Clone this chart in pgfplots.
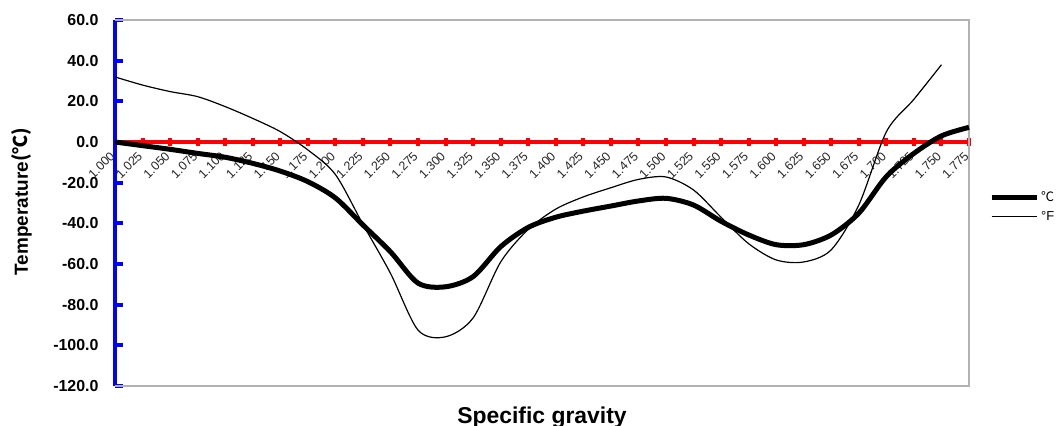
\documentclass[border=0pt]{standalone}
\usepackage{fontspec}
\setmainfont{Liberation Sans}
\newfontfamily\kr{Noto Sans CJK KR}
\usepackage{pgfplots}
\pgfplotsset{compat=1.18}

% freezing point vs specific gravity
\pgfplotstableread{
i   tc
0   0
1   -1.8
2   -3.6
3   -5.6
4   -7.5
5   -10.5
6   -14.3
7   -19.5
8   -27.5
9   -40.8
10  -54
11  -69.4
12  -71.2
13  -66.2
14  -51.5
15  -42
16  -37
17  -34
18  -31.5
19  -29
20  -27.7
21  -31
22  -39
23  -45.7
24  -50.5
25  -50.5
26  -45.7
27  -35
28  -17
29  -5.6
30  3
31  7.2
}\tblC
\pgfplotstableread{
i   tf
0   32
1   28
2   24.8
3   22.3
4   17.4
5   11.6
6   5.1
7   -3.9
8   -16
9   -40.5
10  -64.6
11  -92.5
12  -95.8
13  -86.5
14  -59
15  -43
16  -33
17  -27
18  -22.5
19  -18.4
20  -17.2
21  -23.6
22  -37
23  -50
24  -58
25  -59
26  -53
27  -31
28  5
29  21
30  38
}\tblF

\begin{document}
\begin{tikzpicture}
\useasboundingbox (0,0) rectangle (1057bp,426bp);
\begin{axis}[
    at={(115bp,40bp)}, anchor=south west,
    scale only axis, width=854bp, height=366bp,
    clip=false,
    xmin=0, xmax=31, ymin=-120, ymax=60,
    axis x line*=middle, axis y line*=left,
    hide obscured x ticks=false, hide obscured y ticks=false,
    x axis line style={red, line width=4.5bp},
    y axis line style={blue, line width=4.5bp},
    major tick length=8bp,
    xtick align=center, ytick align=inside,
    x tick style={red, line width=4bp},
    y tick style={blue, line width=4bp},
    xtick={0,...,31},
    xticklabels={1.000,1.025,1.050,1.075,1.100,1.125,1.150,1.175,1.200,1.225,1.250,1.275,1.300,1.325,1.350,1.375,1.400,1.425,1.450,1.475,1.500,1.525,1.550,1.575,1.600,1.625,1.650,1.675,1.700,1.725,1.750,1.775},
    xticklabel style={rotate=45, anchor=east, font=\fontsize{12.5}{13}\selectfont, text=black!85, yshift=-4bp, xshift=-4bp},
    ytick={-120,-100,...,60},
    yticklabels={-120.0,-100.0,-80.0,-60.0,-40.0,-20.0,0.0,20.0,40.0,60.0},
    yticklabel style={font=\bfseries\fontsize{16}{18}\selectfont, xshift=-13bp},
    xlabel={Specific gravity},
    every axis x label/.style={at={(rel axis cs:0.5,0)}, anchor=base, yshift=-37bp, font=\bfseries\fontsize{23}{26}\selectfont},
    ylabel={Temperature{\kr(℃)}},
    every axis y label/.style={at={(rel axis cs:0,0.504)}, rotate=90, anchor=base, yshift=87bp, font=\bfseries\fontsize{19}{22}\selectfont},
    legend style={at={(1.0234,0.489)}, anchor=west, draw=none, fill=none, inner sep=0pt,
        font=\fontsize{13}{15}\selectfont, row sep=4bp},
    legend cell align=left,
    legend image code/.code={\draw[#1] (0bp,0bp) -- (45bp,0bp);},
]
\draw[black!30, line width=1.3bp] (rel axis cs:0,1) -- (rel axis cs:1,1) -- (rel axis cs:1,0) -- (rel axis cs:0,0);
\addplot[black, line width=5bp, smooth] table[x=i, y=tc] {\tblC};
\addlegendentry{\kr ℃}
\addplot[black, line width=1.2bp, smooth] table[x=i, y=tf] {\tblF};
\addlegendentry{°F}
\end{axis}
\end{tikzpicture}
\end{document}
